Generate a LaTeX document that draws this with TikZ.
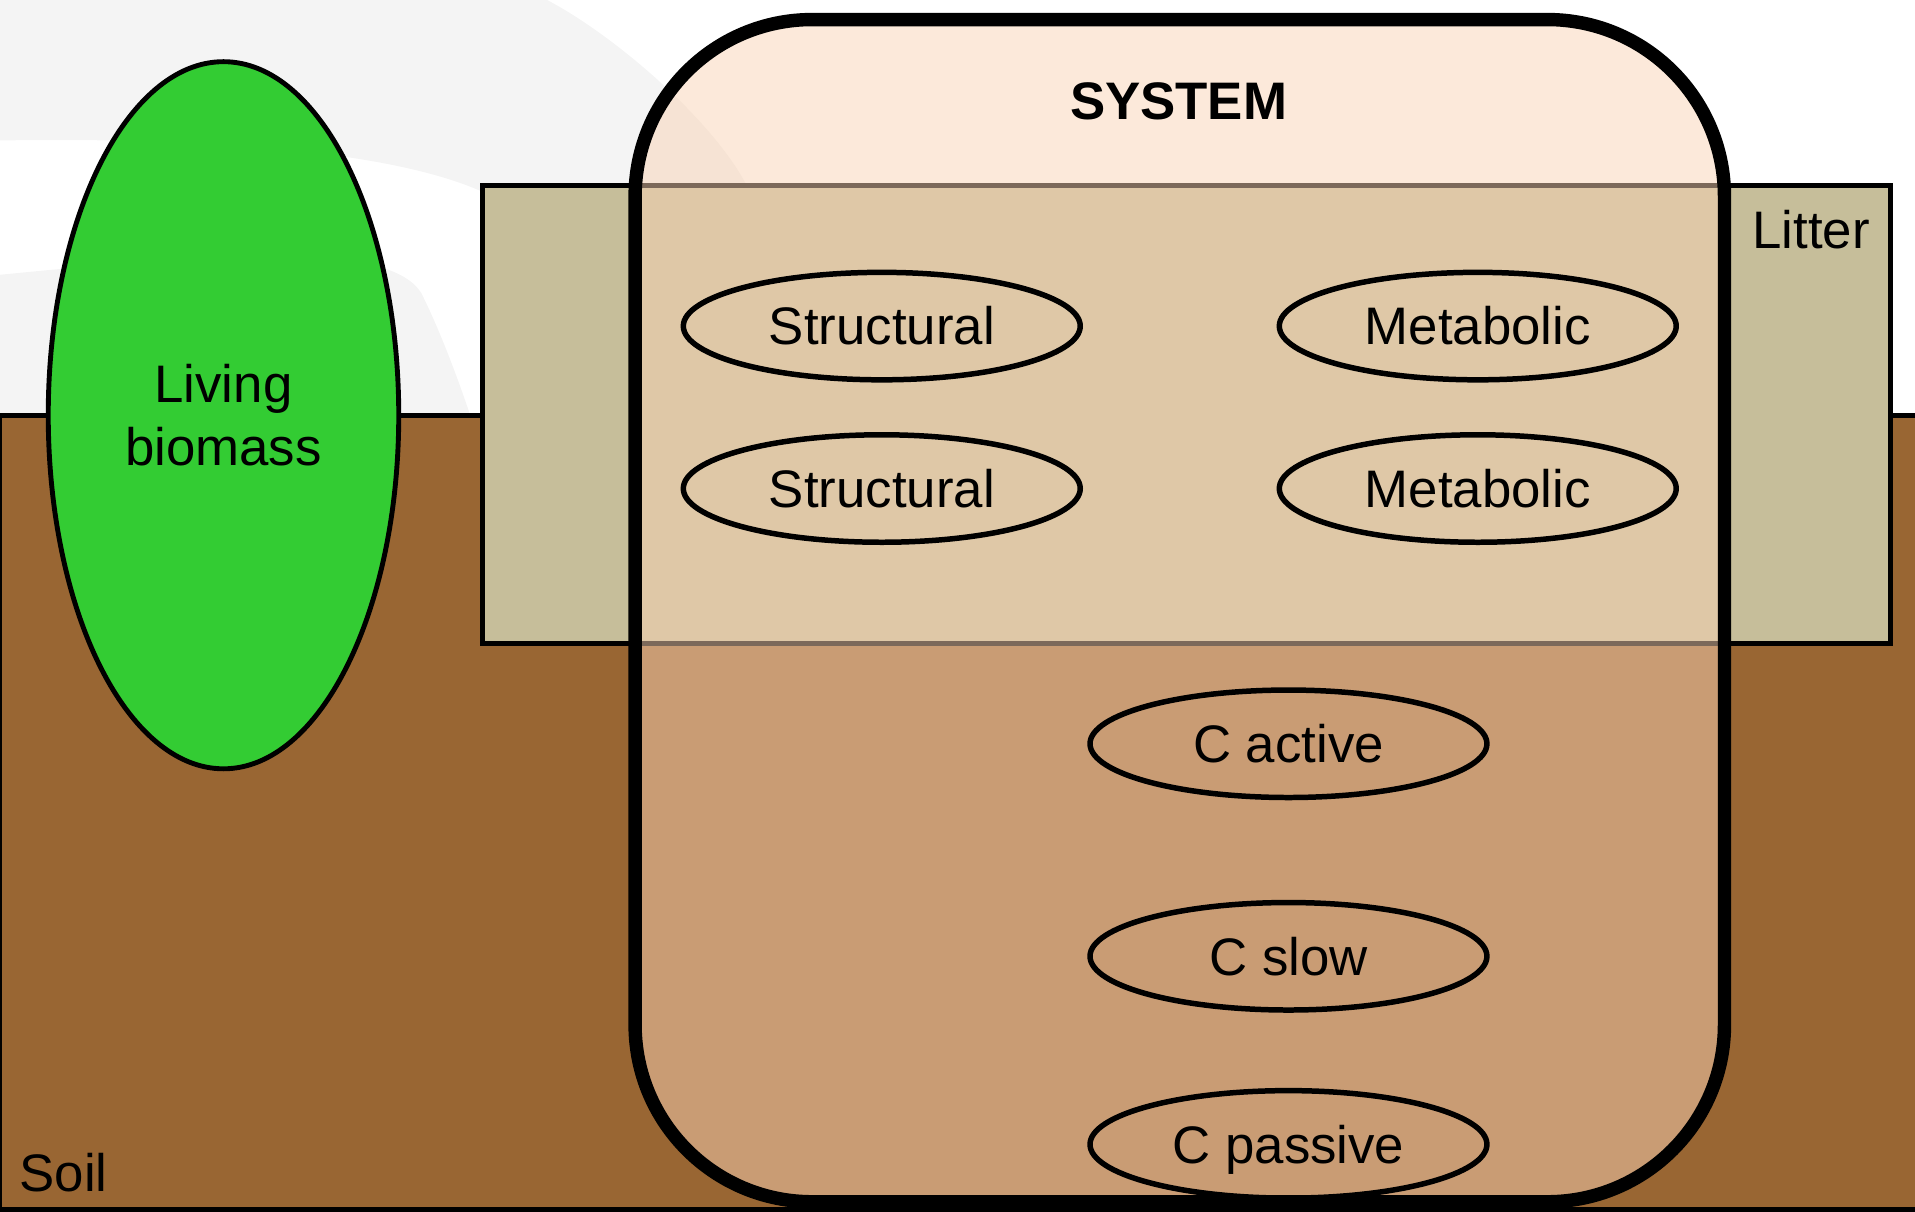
\documentclass[tikz,border=0pt]{standalone}
\usepackage{fontspec}
\setmainfont{Liberation Sans}
\usepackage{tikz}
\usetikzlibrary{shapes,positioning}
\definecolor{soilbrown}{RGB}{153,102,51}
\definecolor{litterkhaki}{RGB}{198,190,154}
\definecolor{leafgreen}{RGB}{51,204,51}
\definecolor{systempeach}{RGB}{249,211,181}
\definecolor{markgrey}{RGB}{244,244,244}
\newcommand{\poolfont}{\fontsize{12.3}{14.74}\selectfont}

\begin{document}
\begin{tikzpicture}[x=0.1mm,y=-0.1mm]
\tikzstyle{layer}=[rectangle, draw=black, line width=0.4mm, inner sep=0pt]
\tikzstyle{soilbox}=[layer, fill=soilbrown, minimum width=159mm, minimum height=65mm]
\tikzstyle{litterbox}=[layer, fill=litterkhaki, minimum width=115.3mm, minimum height=37.5mm]
\tikzstyle{plant}=[ellipse, draw=black, line width=0.4mm, fill=leafgreen, minimum width=28.7mm, minimum height=57.9mm, inner sep=0pt, align=center, font=\poolfont]
\tikzstyle{sysbox}=[rectangle, rounded corners=14.5mm, draw=black, line width=1.1mm, fill=systempeach, fill opacity=0.5, minimum width=89.2mm, minimum height=96.8mm]
\tikzstyle{pool}=[ellipse, draw=black, line width=0.45mm, minimum width=32.5mm, minimum height=8.8mm, inner sep=0pt, text height=8.8pt, text depth=0pt, font=\poolfont, node distance=13.3mm]
\tikzstyle{lbl}=[inner sep=0pt, font=\poolfont]
\tikzstyle{title}=[lbl, font=\poolfont\bfseries]

  \useasboundingbox (0,0) rectangle (1568,992);

  \fill[markgrey] (0,0) -- (448,0) .. controls (505,30) and (585,100) .. (612,153) -- (640,260) -- (430,260) -- (430,175) -- (395,157) .. controls (330,128) and (200,112) .. (0,115) -- cycle;
  \fill[markgrey] (0,225) .. controls (200,205) and (320,200) .. (345,240) .. controls (360,270) and (375,310) .. (385,340) -- (0,340) -- cycle;

  \node[soilbox]   (soil)   at (795,665.5) {};
  \node[litterbox] (litter) at (971.5,339.5) {};
  \node[plant]     (living) at (183,340) {Living\\biomass};

  \node[sysbox] (system) at (966,500) {};
  \node[title]  (systitle) at (965,83) {SYSTEM};

  \node[lbl] (littertxt) at (1483,188) {Litter};
  \node[lbl] (soiltxt)   at (52,960)   {Soil};

  \node[pool] (struct1) at (722,267)                                {Structural};
  \node[pool] (struct2) [below of =struct1]                         {Structural};
  \node[pool] (metab1)  [right of =struct1, node distance=48.8mm]   {Metabolic};
  \node[pool] (metab2)  [below of =metab1]                          {Metabolic};

  \node[pool] (cactive)  at (1055,609)                              {C active};
  \node[pool] (cslow)    [below of =cactive, node distance=17.4mm]  {C slow};
  \node[pool] (cpassive) [below of =cslow, node distance=15.4mm]    {C passive};

\end{tikzpicture}
\end{document}
